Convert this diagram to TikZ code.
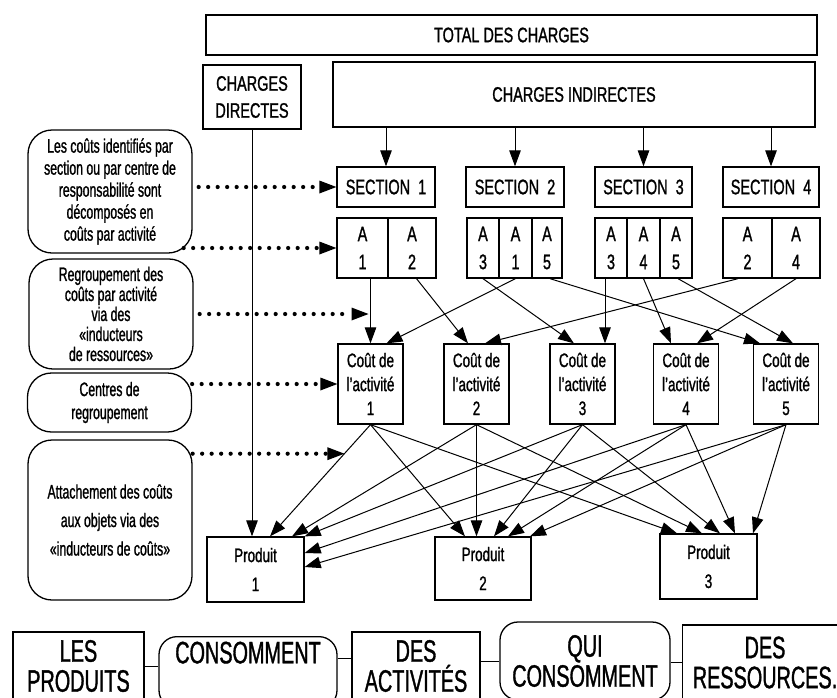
\documentclass[tikz,border=0pt]{standalone}
\usepackage{fontspec}
\setmainfont{Liberation Sans}[FakeStretch=0.69,FakeBold=1.1]
\newfontfamily\notefont{Liberation Sans}[FakeStretch=0.63,FakeBold=1.1]
\newfontfamily\bigfont{Liberation Sans}[FakeStretch=0.64,FakeBold=1.1]
\usetikzlibrary{arrows.meta,calc}

\tikzset{
  plainbox/.style={draw,line width=1.3pt,inner sep=0pt,align=center,font=\fontsize{21}{27}\selectfont},
  cell/.style={plainbox,minimum height=60pt,font=\fontsize{21}{28}\selectfont},
  cout/.style={plainbox,minimum width=65pt,minimum height=80pt,font=\fontsize{19.5}{24}\selectfont},
  prod/.style={plainbox,minimum width=97pt,minimum height=65pt,font=\fontsize{19.5}{29}\selectfont},
  note/.style={draw,line width=1.3pt,rounded corners=24pt,minimum width=164pt,inner sep=0pt,align=center},
  flow/.style={draw,line width=1.3pt,inner sep=0pt,align=center,font=\bigfont\fontsize{31}{30}\selectfont},
  arr/.style={line width=1pt,-{Triangle[length=16pt,width=11.5pt]}},
  dotarrow/.style={line width=4.2pt,line cap=round,dash pattern=on 0pt off 9.5pt,-{Triangle[length=17pt,width=13pt,line width=0pt]}},
}

\begin{document}
\begin{tikzpicture}[x=1pt,y=-1pt]
\useasboundingbox (0,0) rectangle (837,697);
\clip (0,0) rectangle (837,697);

\node[plainbox,minimum width=611pt,minimum height=40pt] (total) at (511.5,35) {TOTAL DES CHARGES};
\node[plainbox,minimum width=98pt,minimum height=64pt] (dir) at (252,97) {CHARGES\\DIRECTES};
\node[plainbox,minimum width=482pt,minimum height=65pt] (ind) at (574,94.5) {CHARGES INDIRECTES};

\node[plainbox,minimum width=98pt,minimum height=40pt] (s1) at (386,187) {SECTION\ \ 1};
\node[plainbox,minimum width=98pt,minimum height=40pt] (s2) at (515,187) {SECTION\ \ 2};
\node[plainbox,minimum width=97pt,minimum height=40pt] (s3) at (643.5,187) {SECTION\ \ 3};
\node[plainbox,minimum width=96pt,minimum height=40pt] (s4) at (771,187) {SECTION\ \ 4};

\node[cell,minimum width=51pt] (a11) at (362.5,248) {A\\1};
\node[cell,minimum width=48pt] (a12) at (412,248) {A\\2};
\node[cell,minimum width=32pt] (a21) at (483,248) {A\\3};
\node[cell,minimum width=33pt] (a22) at (515.5,248) {A\\1};
\node[cell,minimum width=30pt] (a23) at (547,248) {A\\5};
\node[cell,minimum width=32pt] (a31) at (611,248) {A\\3};
\node[cell,minimum width=33pt] (a32) at (643.5,248) {A\\4};
\node[cell,minimum width=32pt] (a33) at (676,248) {A\\5};
\node[cell,minimum width=49pt] (a41) at (747.5,248) {A\\2};
\node[cell,minimum width=48pt] (a42) at (796,248) {A\\4};

\node[cout] (c1) at (370.5,384) {Coût de\\l'activité\\1};
\node[cout] (c2) at (476.5,384) {Coût de\\l'activité\\2};
\node[cout] (c3) at (582.5,384) {Coût de\\l'activité\\3};
\node[cout] (c4) at (686,384) {Coût de\\l'activité\\4};
\node[cout] (c5) at (786,384) {Coût de\\l'activité\\5};

\node[prod] (p1) at (255.5,569.5) {Produit\\1};
\node[prod,minimum width=96pt,minimum height=63pt] (p2) at (483,568.5) {Produit\\2};
\node[prod] (p3) at (708.5,566.5) {Produit\\3};

\node[note,minimum height=123pt,font=\notefont\fontsize{19.5}{22}\selectfont] (n1) at (110,191.5) {Les coûts identifiés par\\section ou par centre de\\responsabilité sont\\décomposés en\\coûts par activité};
\node[note,minimum height=110pt,font=\notefont\fontsize{19.5}{20}\selectfont] (n2) at (111,314) {Regroupement des\\coûts par activité\\via des\\«inducteurs\\de ressources»};
\node[note,minimum height=59pt,font=\notefont\fontsize{19.5}{23}\selectfont] (n3) at (109.5,402.5) {Centres de\\regroupement};
\node[note,minimum height=160pt,font=\notefont\fontsize{19.5}{28.5}\selectfont] (n4) at (110,520) {Attachement des coûts\\aux objets via des\\«inducteurs de coûts»};

\node[flow,minimum width=131pt,minimum height=68pt] (f1) at (78.5,666) {LES\\PRODUITS};
\node[flow,rounded corners=18pt,minimum width=178pt,anchor=north,inner ysep=5pt,text depth=40pt] (f2) at (248,636) {CONSOMMENT};
\node[flow,minimum width=128pt,minimum height=68pt] (f3) at (416,666) {DES\\ACTIVITÉS};
\node[flow,rounded corners=18pt,minimum width=170pt,minimum height=78pt] (f4) at (585,661) {QUI\\CONSOMMENT};
\node[flow,minimum width=165pt,minimum height=75pt] (f5) at (765,662.5) {DES\\RESSOURCES.};

\draw[line width=1pt] (f1.east) -- (f1.east -| f2.west);
\draw[line width=1pt] ($(f3.west -| f2.east)+(0,-8)$) -- ($(f3.west)+(0,-8)$);
\draw[line width=1pt] (f4.west -| f3.east) -- (f4.west);
\draw[line width=1pt] (f5.west -| f4.east) -- (f5.west);

\draw[arr] (ind.south -| s1.north) -- (s1.north);
\draw[arr] (ind.south -| s2.north) -- (s2.north);
\draw[arr] (ind.south -| s3.north) -- (s3.north);
\draw[arr] (ind.south -| s4.north) -- (s4.north);
\draw[arr] (dir.south) -- (dir.south |- p1.north);

\draw[arr] (a11.south -| c1.north) -- (c1.north);
\draw[arr] ([xshift=4.5pt]a12.south) -- ([xshift=-8.5pt]c2.north);
\draw[arr] (a21.south) -- ([xshift=-8.5pt]c3.north);
\draw[arr] (a22.south) -- ([xshift=16pt]c1.north);
\draw[arr] ([xshift=3pt]a23.south) -- ([xshift=-26pt]c5.north);
\draw[arr] ([xshift=-6pt]a31.south) -- ($(a31.south |- c3.north)+(-6,0)$);
\draw[arr] (a32.south) -- ([xshift=-15pt]c4.north);
\draw[arr] ([xshift=2pt]a33.south) -- ([xshift=7pt]c5.north);
\draw[arr] ([xshift=-9.5pt]a41.south) -- ([xshift=8.5pt]c2.north);
\draw[arr] (a42.south) -- ([xshift=11pt]c4.north);

\draw[arr] (c1.south) -- ([xshift=14.5pt]p1.north);
\draw[arr] (c1.south) -- ([xshift=-18pt]p2.north);
\draw[arr] (c1.south) -- ([xshift=-31.5pt]p3.north);
\draw[arr] (c2.south) -- ([xshift=36.5pt]p1.north);
\draw[arr] (c2.south) -- (c2.south |- p2.north);
\draw[arr] (c2.south) -- ([xshift=-6.5pt]p3.north);
\draw[arr] (c3.south) -- (p1.north east);
\draw[arr] (c3.south) -- ([xshift=11pt]p2.north);
\draw[arr] (c3.south) -- ([xshift=11.5pt]p3.north);
\draw[arr] (c4.south) -- ([yshift=16.5pt]p1.east);
\draw[arr] (c4.south) -- ([xshift=25pt]p2.north);
\draw[arr] (c4.south) -- ([xshift=26.5pt]p3.north);
\draw[arr] (c5.south) -- ([yshift=2.5pt]p1.east);
\draw[arr] (c5.south) -- ([xshift=47pt]p2.north);
\draw[arr] (c5.south) -- ([xshift=44.5pt]p3.north);

\coordinate (att) at ($(c1.south)!0.26!([xshift=14.5pt]p1.north)$);
\draw[dotarrow] ($(n1.east |- s1.west)+(6,0)$) -- (s1.west);
\draw[dotarrow] ($(n1.east |- a11.west)+(-9,0)$) -- (a11.west);
\draw[dotarrow] ($(n2.east)+(6,0)$) -- ($(n2.east -| c1.north)+(-2,0)$);
\draw[dotarrow] (n3.east |- c1.west) -- (c1.west);
\draw[dotarrow] (att -| n4.east) -- (att);
\end{tikzpicture}
\end{document}
